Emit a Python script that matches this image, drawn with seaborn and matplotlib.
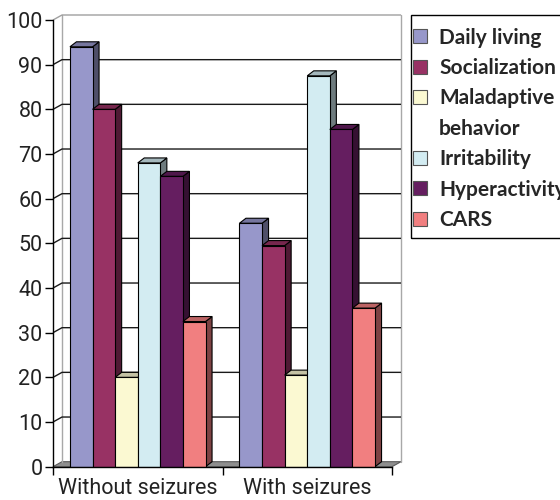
import numpy as np
import pandas as pd
import matplotlib
matplotlib.use("Agg")
import matplotlib.pyplot as plt
import matplotlib.colors as mcolors
from matplotlib.patches import Polygon, Patch, Rectangle
import seaborn as sns

# ---- data -------------------------------------------------------------
groups = ["Without seizures", "With seizures"]
measures = ["Daily living", "Socialization", "Maladaptive\nbehavior",
            "Irritability", "Hyperactivity", "CARS"]
without_seizures = [94, 80, 20, 68, 65, 32.5]
with_seizures = [54.5, 49.5, 20.5, 87.5, 75.5, 35.5]
y_ticks = [0, 10, 20, 30, 40, 50, 60, 70, 80, 90, 100]

colors = ["#9797CA", "#983264", "#FBF9D2", "#D3ECF2", "#651E60", "#F17F80"]

df = pd.DataFrame({
    "group": np.repeat(groups, len(measures)),
    "measure": measures * len(groups),
    "score": without_seizures + with_seizures,
})

# ---- figure -----------------------------------------------------------
sns.set_theme(style="ticks")
plt.rcParams["font.family"] = ["Roboto", "DejaVu Sans"]

W, H = 560, 500
fig = plt.figure(figsize=(W / 100, H / 100), dpi=100)
ax_left, ax_right, ax_bottom, ax_top = 53, 392, 466.7, 20
ax = fig.add_axes([ax_left / W, 1 - ax_bottom / H,
                   (ax_right - ax_left) / W, (ax_bottom - ax_top) / H])

sns.barplot(data=df, x="group", y="score", hue="measure",
            order=groups, hue_order=measures, palette=colors,
            width=0.8, saturation=1, edgecolor="black", linewidth=0.8,
            legend=False, ax=ax)
ax.set_xlim(-0.5, 1.5)
ax.set_ylim(0, 100)

# pixel -> data conversion for the pseudo-3D depth
px_x = 2.0 / (ax_right - ax_left)
px_y = 100.0 / (ax_bottom - ax_top)
wall_dx, wall_dy = 9 * px_x, 5 * px_y     # back wall offset
bar_dx, bar_dy = 6.5 * px_x, 5 * px_y     # bar depth

x0, x1 = -0.5, 1.5

# floor
ax.add_patch(Polygon([(x0, 0), (x1, 0), (x1 + wall_dx, wall_dy), (x0 + wall_dx, wall_dy)],
                     closed=True, facecolor="#8E8E8E", edgecolor="#5A5A5A",
                     linewidth=0.8, zorder=0.5, clip_on=False))
# back wall gridlines with the side-wall diagonal
for v in y_ticks[1:]:
    col = "#A0A0A0" if v == 100 else "#1A1A1A"
    ax.plot([x0, x0 + wall_dx, x1 + wall_dx], [v, v + wall_dy, v + wall_dy],
            color=col, linewidth=1.0, zorder=0.6, clip_on=False,
            solid_capstyle="butt")
# wall edges
for xe in (x0 + wall_dx, x1 + wall_dx):
    ax.plot([xe, xe], [wall_dy, 100 + wall_dy], color="#A8A8A8",
            linewidth=1.0, zorder=0.55, clip_on=False)

# bar sides and tops
bars = sorted([p for p in ax.patches if hasattr(p, "get_width") and p.get_height() > 0],
              key=lambda p: p.get_x())
for k, bar in enumerate(bars):
    bx, bw, bh = bar.get_x(), bar.get_width(), bar.get_height()
    rgb = np.array(mcolors.to_rgb(bar.get_facecolor()))
    side_c = rgb * 0.52
    top_c = rgb * 0.78
    z = 3 + 0.1 * k
    bar.set_zorder(z + 0.05)
    side = Polygon([(bx + bw, 0), (bx + bw + bar_dx, bar_dy),
                    (bx + bw + bar_dx, bh + bar_dy), (bx + bw, bh)],
                   closed=True, facecolor=side_c, edgecolor="black",
                   linewidth=0.8, zorder=z, clip_on=False)
    top = Polygon([(bx, bh), (bx + bar_dx, bh + bar_dy),
                   (bx + bw + bar_dx, bh + bar_dy), (bx + bw, bh)],
                  closed=True, facecolor=top_c, edgecolor="black",
                  linewidth=0.8, zorder=z, clip_on=False)
    ax.add_patch(side)
    ax.add_patch(top)

# axes styling
for s in ("top", "right"):
    ax.spines[s].set_visible(False)
for s in ("left", "bottom"):
    ax.spines[s].set_color("black")
    ax.spines[s].set_linewidth(1.0)
    ax.spines[s].set_zorder(10)
ax.set_yticks(y_ticks)
ax.set_xticks([0, 1])
ax.set_xticklabels(groups)
ax.set_xticks([-0.5, 0.5, 1.5], minor=True)
ax.tick_params(axis="y", which="major", left=True, direction="out", length=6,
               width=1, color="black", labelsize=15.5, labelcolor="#222222", pad=1.5)
ax.tick_params(axis="x", which="major", bottom=True, length=0, labelsize=15.5,
               labelcolor="#222222", pad=8)
ax.tick_params(axis="x", which="minor", bottom=True, direction="out", length=6,
               width=1, color="black")
ax.set_xlabel("")
ax.set_ylabel("")
ax.grid(False)

# legend: wrapped labels continue on a row without a swatch
handles, labels = [], []
for c, m in zip(colors, measures):
    first, *rest = m.split("\n")
    handles.append(Patch(facecolor=c, edgecolor="#555555", linewidth=0.8))
    labels.append(first)
    for line in rest:
        handles.append(Patch(facecolor="none", edgecolor="none"))
        labels.append(line)

leg = fig.legend(handles, labels, loc="upper left",
                 bbox_to_anchor=(400.5 / W, 1 - 15 / H), frameon=False,
                 prop=dict(family=["Lato", "DejaVu Sans"], weight="bold", size=15),
                 handlelength=0.65, handleheight=0.65, handletextpad=0.6,
                 labelspacing=0.5, borderpad=0.6, borderaxespad=0)
fig.add_artist(Rectangle((411 / W, 1 - 238 / H), (600 - 411) / W, (238 - 15) / H,
                         transform=fig.transFigure, fill=False,
                         edgecolor="black", linewidth=1.0))

fig.savefig("out.png", dpi=100)
